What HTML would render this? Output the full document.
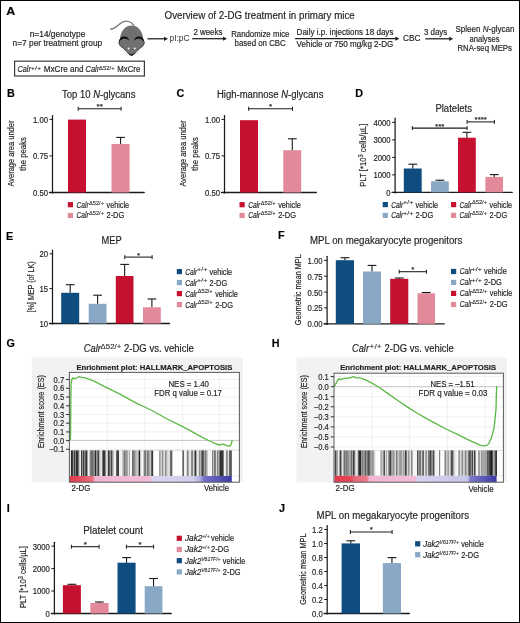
<!DOCTYPE html>
<html><head><meta charset="utf-8"><style>
html,body{margin:0;padding:0;background:#fff;}
#fig{position:relative;width:520px;height:623px;box-sizing:border-box;border:1px solid #000;overflow:hidden;background:#fff;}
#fig svg{position:absolute;left:-1px;top:-1px;will-change:transform;}
text{font-family:"Liberation Sans", sans-serif;stroke:#231f20;stroke-width:0.18px;} text.sp{stroke-width:0.1px;}
</style></head><body><div id="fig">
<svg width="520" height="623" viewBox="0 0 520 623" fill="#231f20">
<text x="6.3" y="14.9" font-size="10.8" font-weight="bold" textLength="9.0" lengthAdjust="spacingAndGlyphs" fill="#000">A</text>
<text x="164.6" y="18.5" font-size="10.4" textLength="190.2" lengthAdjust="spacingAndGlyphs">Overview of 2-DG treatment in primary mice</text>
<text x="57.5" y="36.7" font-size="8.5" text-anchor="middle" textLength="55.6" lengthAdjust="spacingAndGlyphs">n=14/genotype</text>
<text x="57.4" y="45.9" font-size="8.5" text-anchor="middle" textLength="89.6" lengthAdjust="spacingAndGlyphs">n=7 per treatment group</text>
<rect x="14.6" y="61.2" width="129.8" height="14.8" fill="none" stroke="#3a3a3a" stroke-width="1.2"/>
<text x="17.5" y="72.3" font-size="8.4" textLength="13.3" lengthAdjust="spacingAndGlyphs" font-style="italic">Calr</text>
<text x="30.7" y="69.6" font-size="5.4" textLength="10.5" lengthAdjust="spacingAndGlyphs" class="sp">+/+</text>
<text x="43.7" y="72.3" font-size="8.4" textLength="39.9" lengthAdjust="spacingAndGlyphs">MxCre and</text>
<text x="85.5" y="72.3" font-size="8.4" textLength="13.7" lengthAdjust="spacingAndGlyphs" font-style="italic">Calr</text>
<text x="99.1" y="69.6" font-size="5.4" textLength="15.6" lengthAdjust="spacingAndGlyphs" class="sp">&#916;52/+</text>
<text x="117.3" y="72.3" font-size="8.4" textLength="23.0" lengthAdjust="spacingAndGlyphs">MxCre</text>
<path d="M110.2,28.9 C113.6,29.6 116.4,26.8 119.3,24.2 C122.4,21.5 125.8,20.6 128.9,21.5 C131.1,22.2 132.8,23.8 133.9,25.7" fill="none" stroke="#747477" stroke-width="1.3"/>
<g fill="#707073">
<path d="M131.6,25.4 C137.4,25.4 141.9,30.2 142.9,36.8 L143.4,40 L119.8,40 L120.3,36.8 C121.3,30.2 125.8,25.4 131.6,25.4 Z"/>
<circle cx="124.1" cy="42.3" r="5.3"/>
<circle cx="139.1" cy="42.3" r="5.3"/>
<path d="M120.5,36.5 L142.7,36.5 L143.5,44 C142,46.5 140.5,47.6 139.4,48.4 C137,51.4 134.3,55.4 131.6,55.6 C128.9,55.4 126.2,51.4 123.8,48.4 C122.7,47.6 121.2,46.5 119.7,44 Z"/>
</g>
<g fill="none" stroke-linecap="round">
<path d="M118.8,43 C118.7,39 121.4,36.5 124.3,36.5 C126.9,36.5 128.9,38.3 129.4,41.4 C128.3,39.6 126.6,38.6 124.4,38.6 C122,38.6 120.1,40.3 118.8,43 Z" fill="#0a0a0a" stroke="none"/>
<path d="M144.4,43 C144.5,39 141.8,36.5 138.9,36.5 C136.3,36.5 134.3,38.3 133.8,41.4 C134.9,39.6 136.6,38.6 138.8,38.6 C141.2,38.6 143.1,40.3 144.4,43 Z" fill="#0a0a0a" stroke="none"/>
<path d="M119,42.8 C119.2,45.3 120.8,46.8 123.1,47.9 C125.9,50.6 128.6,54.7 131.6,55.3" stroke="#333335" stroke-width="0.9"/>
<path d="M144.2,42.8 C144,45.3 142.4,46.8 140.1,47.9 C137.3,50.6 134.6,54.7 131.6,55.3" stroke="#333335" stroke-width="0.9"/>
</g>
<path d="M128.2,53.2 C129.8,54.9 130.6,55.6 131.6,55.6 C132.6,55.6 133.4,54.9 135,53.2 C133.6,53.9 132.6,54.2 131.6,54.2 C130.6,54.2 129.6,53.9 128.2,53.2 Z" fill="#1c1c1c"/>
<circle cx="128.6" cy="48.4" r="1.0" fill="#f2f2f2"/>
<circle cx="134.8" cy="48.4" r="1.0" fill="#f2f2f2"/>
<g stroke="#c8c8c8" stroke-width="0.45" fill="none">
<path d="M127.2,51.4 L122.6,50.3 M127.2,52.1 L123.1,53.4 M127.8,52.8 L124.6,55.9"/>
<path d="M136,51.4 L140.6,50.3 M136,52.1 L140.1,53.4 M135.4,52.8 L138.6,55.9"/>
</g>
<line x1="147.4" y1="38.8" x2="164.6" y2="38.8" stroke="#1e1e1e" stroke-width="1.25"/>
<path d="M168.0,38.8 L164.0,36.699999999999996 L164.0,40.9 Z" fill="#1e1e1e"/>
<text x="169.5" y="41.2" font-size="8.3" textLength="20" lengthAdjust="spacingAndGlyphs" fill="#505050" class="sp">pI:pC</text>
<line x1="192.2" y1="38.7" x2="223.6" y2="38.7" stroke="#1e1e1e" stroke-width="1.25"/>
<path d="M227.0,38.7 L223.0,36.6 L223.0,40.800000000000004 Z" fill="#1e1e1e"/>
<text x="193.4" y="34.5" font-size="8.3" textLength="29" lengthAdjust="spacingAndGlyphs">2 weeks</text>
<text x="260.3" y="36.5" font-size="8.3" text-anchor="middle" textLength="58.2" lengthAdjust="spacingAndGlyphs">Randomize mice</text>
<text x="260.2" y="45.6" font-size="8.3" text-anchor="middle" textLength="51.2" lengthAdjust="spacingAndGlyphs">based on CBC</text>
<line x1="295.1" y1="38.7" x2="396.0" y2="38.7" stroke="#1e1e1e" stroke-width="1.25"/>
<path d="M399.4,38.7 L395.4,36.6 L395.4,40.800000000000004 Z" fill="#1e1e1e"/>
<text x="296.6" y="35.0" font-size="8.3" textLength="96.8" lengthAdjust="spacingAndGlyphs">Daily i.p. injections 18 days</text>
<text x="296.6" y="46.9" font-size="8.3" textLength="96.8" lengthAdjust="spacingAndGlyphs">Vehicle or 750 mg/kg 2-DG</text>
<text x="403.0" y="41.2" font-size="8.3" textLength="17.4" lengthAdjust="spacingAndGlyphs">CBC</text>
<line x1="425.4" y1="38.8" x2="449.8" y2="38.8" stroke="#1e1e1e" stroke-width="1.25"/>
<path d="M453.2,38.8 L449.2,36.699999999999996 L449.2,40.9 Z" fill="#1e1e1e"/>
<text x="423.9" y="35.0" font-size="8.3" textLength="23.3" lengthAdjust="spacingAndGlyphs">3 days</text>
<text x="485.0" y="32.2" font-size="8.5" text-anchor="middle" textLength="59" lengthAdjust="spacingAndGlyphs">Spleen <tspan font-style="italic">N</tspan>-glycan</text>
<text x="484.5" y="41.6" font-size="8.5" text-anchor="middle" textLength="30" lengthAdjust="spacingAndGlyphs">analyses</text>
<text x="484.7" y="50.6" font-size="8.5" text-anchor="middle" textLength="54.5" lengthAdjust="spacingAndGlyphs">RNA-seq MEPs</text>
<text x="7.1" y="96.8" font-size="10.8" font-weight="bold" fill="#000">B</text>
<text x="62.0" y="97.6" font-size="10.0" textLength="73.4" lengthAdjust="spacingAndGlyphs">Top 10 <tspan font-style="italic">N</tspan>-glycans</text>
<line x1="52.5" y1="115.5" x2="52.5" y2="193.1" stroke="#1a1a1a" stroke-width="1.25" stroke-linecap="round"/>
<line x1="49.5" y1="192.5" x2="144.20000000000002" y2="192.5" stroke="#1a1a1a" stroke-width="1.35" stroke-linecap="round"/>
<line x1="49.5" y1="119.4" x2="52.5" y2="119.4" stroke="#1a1a1a" stroke-width="1.0"/>
<text x="48.0" y="122.80000000000001" font-size="8.6" text-anchor="end" textLength="15.06" lengthAdjust="spacingAndGlyphs">1.00</text>
<line x1="49.5" y1="155.9" x2="52.5" y2="155.9" stroke="#1a1a1a" stroke-width="1.0"/>
<text x="48.0" y="159.3" font-size="8.6" text-anchor="end" textLength="15.06" lengthAdjust="spacingAndGlyphs">0.75</text>
<line x1="49.5" y1="192.5" x2="52.5" y2="192.5" stroke="#1a1a1a" stroke-width="1.0"/>
<text x="48.0" y="195.9" font-size="8.6" text-anchor="end" textLength="15.06" lengthAdjust="spacingAndGlyphs">0.50</text>
<rect x="68" y="119.6" width="18" height="72.9" fill="#c5112f"/>
<rect x="111.5" y="144" width="18.099999999999994" height="48.5" fill="#e2899a"/>
<line x1="120.6" y1="144" x2="120.6" y2="137.4" stroke="#1a1a1a" stroke-width="1.1"/>
<line x1="116.19999999999999" y1="137.4" x2="125.0" y2="137.4" stroke="#1a1a1a" stroke-width="1.1"/>
<line x1="78.2" y1="108.8" x2="121.1" y2="108.8" stroke="#1a1a1a" stroke-width="1.05"/>
<line x1="78.2" y1="106.8" x2="78.2" y2="110.8" stroke="#1a1a1a" stroke-width="1.0"/>
<line x1="121.1" y1="106.8" x2="121.1" y2="110.8" stroke="#1a1a1a" stroke-width="1.0"/>
<text x="99.65" y="109.2" font-size="8" text-anchor="middle">**</text>
<text transform="translate(13.9,153.6) rotate(-90)" font-size="9.0" text-anchor="middle" textLength="66" lengthAdjust="spacingAndGlyphs">Average area under</text>
<text transform="translate(25.5,154.0) rotate(-90)" font-size="9.0" text-anchor="middle" textLength="33.6" lengthAdjust="spacingAndGlyphs">the peaks</text>
<rect x="67.8" y="202.1" width="5.2" height="5.2" fill="#c5112f"/>
<text x="76.5" y="207.6" font-size="8.4" textLength="12.1" lengthAdjust="spacingAndGlyphs" font-style="italic">Calr</text>
<text x="89.0" y="204.5" font-size="5.2" textLength="15.0" lengthAdjust="spacingAndGlyphs" class="sp">&#916;52/+</text>
<text x="106.5" y="207.6" font-size="8.4" textLength="22.6" lengthAdjust="spacingAndGlyphs">vehicle</text>
<rect x="67.8" y="212.9" width="5.2" height="5.2" fill="#e2899a"/>
<text x="76.5" y="218.4" font-size="8.4" textLength="12.1" lengthAdjust="spacingAndGlyphs" font-style="italic">Calr</text>
<text x="89.0" y="215.3" font-size="5.2" textLength="15.0" lengthAdjust="spacingAndGlyphs" class="sp">&#916;52/+</text>
<text x="106.5" y="218.4" font-size="8.4" textLength="17.8" lengthAdjust="spacingAndGlyphs">2-DG</text>
<text x="176.5" y="96.8" font-size="10.8" font-weight="bold" fill="#000">C</text>
<text x="217.0" y="97.6" font-size="10.0" textLength="106.4" lengthAdjust="spacingAndGlyphs">High-mannose <tspan font-style="italic">N</tspan>-glycans</text>
<line x1="224.5" y1="115.5" x2="224.5" y2="193.1" stroke="#1a1a1a" stroke-width="1.25" stroke-linecap="round"/>
<line x1="221.5" y1="192.5" x2="316.29999999999995" y2="192.5" stroke="#1a1a1a" stroke-width="1.35" stroke-linecap="round"/>
<line x1="221.5" y1="119.4" x2="224.5" y2="119.4" stroke="#1a1a1a" stroke-width="1.0"/>
<text x="220.0" y="122.80000000000001" font-size="8.6" text-anchor="end" textLength="15.06" lengthAdjust="spacingAndGlyphs">1.00</text>
<line x1="221.5" y1="155.9" x2="224.5" y2="155.9" stroke="#1a1a1a" stroke-width="1.0"/>
<text x="220.0" y="159.3" font-size="8.6" text-anchor="end" textLength="15.06" lengthAdjust="spacingAndGlyphs">0.75</text>
<line x1="221.5" y1="192.5" x2="224.5" y2="192.5" stroke="#1a1a1a" stroke-width="1.0"/>
<text x="220.0" y="195.9" font-size="8.6" text-anchor="end" textLength="15.06" lengthAdjust="spacingAndGlyphs">0.50</text>
<rect x="240" y="120.2" width="18" height="72.3" fill="#c5112f"/>
<rect x="283.3" y="150.2" width="17.899999999999977" height="42.30000000000001" fill="#e2899a"/>
<line x1="292.3" y1="150.2" x2="292.3" y2="138.8" stroke="#1a1a1a" stroke-width="1.1"/>
<line x1="287.90000000000003" y1="138.8" x2="296.7" y2="138.8" stroke="#1a1a1a" stroke-width="1.1"/>
<line x1="248.7" y1="108.8" x2="292.5" y2="108.8" stroke="#1a1a1a" stroke-width="1.05"/>
<line x1="248.7" y1="106.8" x2="248.7" y2="110.8" stroke="#1a1a1a" stroke-width="1.0"/>
<line x1="292.5" y1="106.8" x2="292.5" y2="110.8" stroke="#1a1a1a" stroke-width="1.0"/>
<text x="270.6" y="109.2" font-size="8" text-anchor="middle">*</text>
<text transform="translate(185.9,153.6) rotate(-90)" font-size="9.0" text-anchor="middle" textLength="66" lengthAdjust="spacingAndGlyphs">Average area under</text>
<text transform="translate(197.5,154.0) rotate(-90)" font-size="9.0" text-anchor="middle" textLength="33.6" lengthAdjust="spacingAndGlyphs">the peaks</text>
<rect x="239.5" y="202.1" width="5.2" height="5.2" fill="#c5112f"/>
<text x="248.2" y="207.6" font-size="8.4" textLength="12.1" lengthAdjust="spacingAndGlyphs" font-style="italic">Calr</text>
<text x="260.7" y="204.5" font-size="5.2" textLength="15.0" lengthAdjust="spacingAndGlyphs" class="sp">&#916;52/+</text>
<text x="278.2" y="207.6" font-size="8.4" textLength="22.6" lengthAdjust="spacingAndGlyphs">vehicle</text>
<rect x="239.5" y="212.9" width="5.2" height="5.2" fill="#e2899a"/>
<text x="248.2" y="218.4" font-size="8.4" textLength="12.1" lengthAdjust="spacingAndGlyphs" font-style="italic">Calr</text>
<text x="260.7" y="215.3" font-size="5.2" textLength="15.0" lengthAdjust="spacingAndGlyphs" class="sp">&#916;52/+</text>
<text x="278.2" y="218.4" font-size="8.4" textLength="17.8" lengthAdjust="spacingAndGlyphs">2-DG</text>
<text x="355.2" y="96.9" font-size="10.8" font-weight="bold" fill="#000">D</text>
<text x="435.4" y="111.7" font-size="10.0" textLength="36.6" lengthAdjust="spacingAndGlyphs">Platelets</text>
<line x1="395.1" y1="118.2" x2="395.1" y2="193.0" stroke="#1a1a1a" stroke-width="1.25" stroke-linecap="round"/>
<line x1="392.1" y1="192.4" x2="512.1999999999999" y2="192.4" stroke="#1a1a1a" stroke-width="1.35" stroke-linecap="round"/>
<line x1="392.1" y1="122.4" x2="395.1" y2="122.4" stroke="#1a1a1a" stroke-width="1.0"/>
<text x="390.6" y="125.80000000000001" font-size="8.6" text-anchor="end" textLength="17.21" lengthAdjust="spacingAndGlyphs">4000</text>
<line x1="392.1" y1="139.9" x2="395.1" y2="139.9" stroke="#1a1a1a" stroke-width="1.0"/>
<text x="390.6" y="143.3" font-size="8.6" text-anchor="end" textLength="17.21" lengthAdjust="spacingAndGlyphs">3000</text>
<line x1="392.1" y1="157.4" x2="395.1" y2="157.4" stroke="#1a1a1a" stroke-width="1.0"/>
<text x="390.6" y="160.8" font-size="8.6" text-anchor="end" textLength="17.21" lengthAdjust="spacingAndGlyphs">2000</text>
<line x1="392.1" y1="174.9" x2="395.1" y2="174.9" stroke="#1a1a1a" stroke-width="1.0"/>
<text x="390.6" y="178.3" font-size="8.6" text-anchor="end" textLength="17.21" lengthAdjust="spacingAndGlyphs">1000</text>
<line x1="392.1" y1="192.4" x2="395.1" y2="192.4" stroke="#1a1a1a" stroke-width="1.0"/>
<text x="390.6" y="195.8" font-size="8.6" text-anchor="end" textLength="4.3" lengthAdjust="spacingAndGlyphs">0</text>
<rect x="403.8" y="168.5" width="17.899999999999977" height="23.900000000000006" fill="#0f4d81"/>
<line x1="412.8" y1="168.5" x2="412.8" y2="164.2" stroke="#1a1a1a" stroke-width="1.1"/>
<line x1="408.40000000000003" y1="164.2" x2="417.2" y2="164.2" stroke="#1a1a1a" stroke-width="1.1"/>
<rect x="431" y="181.3" width="17.80000000000001" height="11.099999999999994" fill="#88a8c6"/>
<line x1="439.9" y1="181.3" x2="439.9" y2="180.2" stroke="#1a1a1a" stroke-width="1.1"/>
<line x1="435.5" y1="180.2" x2="444.29999999999995" y2="180.2" stroke="#1a1a1a" stroke-width="1.1"/>
<rect x="458" y="137.7" width="17.80000000000001" height="54.70000000000002" fill="#c5112f"/>
<line x1="466.9" y1="137.7" x2="466.9" y2="132.3" stroke="#1a1a1a" stroke-width="1.1"/>
<line x1="462.5" y1="132.3" x2="471.29999999999995" y2="132.3" stroke="#1a1a1a" stroke-width="1.1"/>
<rect x="485.4" y="176.9" width="17.600000000000023" height="15.5" fill="#e2899a"/>
<line x1="494.2" y1="176.9" x2="494.2" y2="174.6" stroke="#1a1a1a" stroke-width="1.1"/>
<line x1="489.8" y1="174.6" x2="498.59999999999997" y2="174.6" stroke="#1a1a1a" stroke-width="1.1"/>
<line x1="412.3" y1="128.1" x2="467.1" y2="128.1" stroke="#1a1a1a" stroke-width="1.05"/>
<line x1="412.3" y1="126.1" x2="412.3" y2="130.1" stroke="#1a1a1a" stroke-width="1.0"/>
<line x1="467.1" y1="126.1" x2="467.1" y2="130.1" stroke="#1a1a1a" stroke-width="1.0"/>
<text x="439.70000000000005" y="128.5" font-size="8" text-anchor="middle">***</text>
<line x1="467.1" y1="121.9" x2="494.4" y2="121.9" stroke="#1a1a1a" stroke-width="1.05"/>
<line x1="467.1" y1="119.9" x2="467.1" y2="123.9" stroke="#1a1a1a" stroke-width="1.0"/>
<line x1="494.4" y1="119.9" x2="494.4" y2="123.9" stroke="#1a1a1a" stroke-width="1.0"/>
<text x="480.75" y="122.30000000000001" font-size="8" text-anchor="middle">****</text>
<text transform="translate(365.8,155.2) rotate(-90)" font-size="9.0" text-anchor="middle" textLength="63" lengthAdjust="spacingAndGlyphs">PLT [*10<tspan dy="-3.2" font-size="6.6">3</tspan><tspan dy="3.2"> cells/&#181;L]</tspan></text>
<rect x="382.7" y="202.0" width="5.2" height="5.2" fill="#0f4d81"/>
<text x="391.2" y="207.5" font-size="8.4" textLength="12.1" lengthAdjust="spacingAndGlyphs" font-style="italic">Calr</text>
<text x="403.0" y="204.4" font-size="5.2" textLength="10.4" lengthAdjust="spacingAndGlyphs" class="sp">+/+</text>
<text x="415.5" y="207.5" font-size="8.4" textLength="22.6" lengthAdjust="spacingAndGlyphs">vehicle</text>
<rect x="382.7" y="212.8" width="5.2" height="5.2" fill="#88a8c6"/>
<text x="391.2" y="218.3" font-size="8.4" textLength="12.1" lengthAdjust="spacingAndGlyphs" font-style="italic">Calr</text>
<text x="403.0" y="215.2" font-size="5.2" textLength="10.4" lengthAdjust="spacingAndGlyphs" class="sp">+/+</text>
<text x="415.5" y="218.3" font-size="8.4" textLength="17.8" lengthAdjust="spacingAndGlyphs">2-DG</text>
<rect x="451.0" y="202.0" width="5.2" height="5.2" fill="#c5112f"/>
<text x="459.5" y="207.5" font-size="8.4" textLength="12.1" lengthAdjust="spacingAndGlyphs" font-style="italic">Calr</text>
<text x="472.0" y="204.4" font-size="5.2" textLength="15.0" lengthAdjust="spacingAndGlyphs" class="sp">&#916;52/+</text>
<text x="489.5" y="207.5" font-size="8.4" textLength="22.6" lengthAdjust="spacingAndGlyphs">vehicle</text>
<rect x="451.0" y="212.8" width="5.2" height="5.2" fill="#e2899a"/>
<text x="459.5" y="218.3" font-size="8.4" textLength="12.1" lengthAdjust="spacingAndGlyphs" font-style="italic">Calr</text>
<text x="472.0" y="215.2" font-size="5.2" textLength="15.0" lengthAdjust="spacingAndGlyphs" class="sp">&#916;52/+</text>
<text x="489.5" y="218.3" font-size="8.4" textLength="17.8" lengthAdjust="spacingAndGlyphs">2-DG</text>
<text x="5.8999999999999995" y="239.5" font-size="10.8" font-weight="bold" fill="#000">E</text>
<text x="101.5" y="243.7" font-size="10.0" textLength="20.2" lengthAdjust="spacingAndGlyphs">MEP</text>
<line x1="52.5" y1="250.0" x2="52.5" y2="324.1" stroke="#1a1a1a" stroke-width="1.25" stroke-linecap="round"/>
<line x1="49.5" y1="323.5" x2="169.5" y2="323.5" stroke="#1a1a1a" stroke-width="1.35" stroke-linecap="round"/>
<line x1="49.5" y1="253.8" x2="52.5" y2="253.8" stroke="#1a1a1a" stroke-width="1.0"/>
<text x="48.0" y="257.2" font-size="8.6" text-anchor="end" textLength="8.61" lengthAdjust="spacingAndGlyphs">20</text>
<line x1="49.5" y1="288.6" x2="52.5" y2="288.6" stroke="#1a1a1a" stroke-width="1.0"/>
<text x="48.0" y="292.0" font-size="8.6" text-anchor="end" textLength="8.61" lengthAdjust="spacingAndGlyphs">15</text>
<line x1="49.5" y1="323.5" x2="52.5" y2="323.5" stroke="#1a1a1a" stroke-width="1.0"/>
<text x="48.0" y="326.9" font-size="8.6" text-anchor="end" textLength="8.61" lengthAdjust="spacingAndGlyphs">10</text>
<rect x="61.2" y="292.8" width="18.0" height="30.69999999999999" fill="#0f4d81"/>
<line x1="70.2" y1="292.8" x2="70.2" y2="284.7" stroke="#1a1a1a" stroke-width="1.1"/>
<line x1="65.8" y1="284.7" x2="74.60000000000001" y2="284.7" stroke="#1a1a1a" stroke-width="1.1"/>
<rect x="88.7" y="303.8" width="17.799999999999997" height="19.69999999999999" fill="#88a8c6"/>
<line x1="97.6" y1="303.8" x2="97.6" y2="295.2" stroke="#1a1a1a" stroke-width="1.1"/>
<line x1="93.19999999999999" y1="295.2" x2="102.0" y2="295.2" stroke="#1a1a1a" stroke-width="1.1"/>
<rect x="115.8" y="276" width="17.700000000000003" height="47.5" fill="#c5112f"/>
<line x1="124.65" y1="276" x2="124.65" y2="264.4" stroke="#1a1a1a" stroke-width="1.1"/>
<line x1="120.25" y1="264.4" x2="129.05" y2="264.4" stroke="#1a1a1a" stroke-width="1.1"/>
<rect x="143" y="307.3" width="17.80000000000001" height="16.19999999999999" fill="#e2899a"/>
<line x1="151.9" y1="307.3" x2="151.9" y2="299" stroke="#1a1a1a" stroke-width="1.1"/>
<line x1="147.5" y1="299" x2="156.3" y2="299" stroke="#1a1a1a" stroke-width="1.1"/>
<line x1="124.8" y1="257.1" x2="152.1" y2="257.1" stroke="#1a1a1a" stroke-width="1.05"/>
<line x1="124.8" y1="255.10000000000002" x2="124.8" y2="259.1" stroke="#1a1a1a" stroke-width="1.0"/>
<line x1="152.1" y1="255.10000000000002" x2="152.1" y2="259.1" stroke="#1a1a1a" stroke-width="1.0"/>
<text x="138.45" y="257.5" font-size="8" text-anchor="middle">*</text>
<text transform="translate(34.0,286.9) rotate(-90)" font-size="9.0" text-anchor="middle" textLength="51" lengthAdjust="spacingAndGlyphs">[%] MEP (of LK)</text>
<rect x="176.8" y="269.0" width="5.2" height="5.2" fill="#0f4d81"/>
<text x="185.2" y="274.5" font-size="8.4" textLength="12.1" lengthAdjust="spacingAndGlyphs" font-style="italic">Calr</text>
<text x="197.0" y="271.4" font-size="5.2" textLength="10.4" lengthAdjust="spacingAndGlyphs" class="sp">+/+</text>
<text x="209.5" y="274.5" font-size="8.4" textLength="22.6" lengthAdjust="spacingAndGlyphs">vehicle</text>
<rect x="176.8" y="280.0" width="5.2" height="5.2" fill="#88a8c6"/>
<text x="185.2" y="285.5" font-size="8.4" textLength="12.1" lengthAdjust="spacingAndGlyphs" font-style="italic">Calr</text>
<text x="197.0" y="282.4" font-size="5.2" textLength="10.4" lengthAdjust="spacingAndGlyphs" class="sp">+/+</text>
<text x="209.5" y="285.5" font-size="8.4" textLength="17.8" lengthAdjust="spacingAndGlyphs">2-DG</text>
<rect x="176.8" y="291.0" width="5.2" height="5.2" fill="#c5112f"/>
<text x="185.2" y="296.5" font-size="8.4" textLength="12.1" lengthAdjust="spacingAndGlyphs" font-style="italic">Calr</text>
<text x="197.7" y="293.4" font-size="5.2" textLength="15.0" lengthAdjust="spacingAndGlyphs" class="sp">&#916;52/+</text>
<text x="215.2" y="296.5" font-size="8.4" textLength="22.6" lengthAdjust="spacingAndGlyphs">vehicle</text>
<rect x="176.8" y="302.0" width="5.2" height="5.2" fill="#e2899a"/>
<text x="185.2" y="307.5" font-size="8.4" textLength="12.1" lengthAdjust="spacingAndGlyphs" font-style="italic">Calr</text>
<text x="197.7" y="304.4" font-size="5.2" textLength="15.0" lengthAdjust="spacingAndGlyphs" class="sp">&#916;52/+</text>
<text x="215.2" y="307.5" font-size="8.4" textLength="17.8" lengthAdjust="spacingAndGlyphs">2-DG</text>
<text x="278.0" y="239.2" font-size="10.8" font-weight="bold" fill="#000">F</text>
<text x="310.0" y="243.6" font-size="10.0" textLength="152.4" lengthAdjust="spacingAndGlyphs">MPL on megakaryocyte progenitors</text>
<line x1="327.1" y1="256.3" x2="327.1" y2="324.40000000000003" stroke="#1a1a1a" stroke-width="1.25" stroke-linecap="round"/>
<line x1="324.1" y1="323.8" x2="444.2" y2="323.8" stroke="#1a1a1a" stroke-width="1.35" stroke-linecap="round"/>
<line x1="324.1" y1="260.4" x2="327.1" y2="260.4" stroke="#1a1a1a" stroke-width="1.0"/>
<text x="322.6" y="263.79999999999995" font-size="8.6" text-anchor="end" textLength="15.06" lengthAdjust="spacingAndGlyphs">1.00</text>
<line x1="324.1" y1="276.2" x2="327.1" y2="276.2" stroke="#1a1a1a" stroke-width="1.0"/>
<text x="322.6" y="279.59999999999997" font-size="8.6" text-anchor="end" textLength="15.06" lengthAdjust="spacingAndGlyphs">0.75</text>
<line x1="324.1" y1="292.1" x2="327.1" y2="292.1" stroke="#1a1a1a" stroke-width="1.0"/>
<text x="322.6" y="295.5" font-size="8.6" text-anchor="end" textLength="15.06" lengthAdjust="spacingAndGlyphs">0.50</text>
<line x1="324.1" y1="307.9" x2="327.1" y2="307.9" stroke="#1a1a1a" stroke-width="1.0"/>
<text x="322.6" y="311.29999999999995" font-size="8.6" text-anchor="end" textLength="15.06" lengthAdjust="spacingAndGlyphs">0.25</text>
<line x1="324.1" y1="323.8" x2="327.1" y2="323.8" stroke="#1a1a1a" stroke-width="1.0"/>
<text x="322.6" y="327.2" font-size="8.6" text-anchor="end" textLength="15.06" lengthAdjust="spacingAndGlyphs">0.00</text>
<rect x="335.8" y="260.2" width="18.19999999999999" height="63.60000000000002" fill="#0f4d81"/>
<line x1="344.9" y1="260.2" x2="344.9" y2="257.7" stroke="#1a1a1a" stroke-width="1.1"/>
<line x1="340.5" y1="257.7" x2="349.29999999999995" y2="257.7" stroke="#1a1a1a" stroke-width="1.1"/>
<rect x="363" y="271.5" width="18" height="52.30000000000001" fill="#88a8c6"/>
<line x1="372" y1="271.5" x2="372" y2="265.4" stroke="#1a1a1a" stroke-width="1.1"/>
<line x1="367.6" y1="265.4" x2="376.4" y2="265.4" stroke="#1a1a1a" stroke-width="1.1"/>
<rect x="390.2" y="278.8" width="18.100000000000023" height="45.0" fill="#c5112f"/>
<line x1="399.25" y1="278.8" x2="399.25" y2="278.0" stroke="#1a1a1a" stroke-width="1.1"/>
<line x1="394.85" y1="278.0" x2="403.65" y2="278.0" stroke="#1a1a1a" stroke-width="1.1"/>
<rect x="417.5" y="293.3" width="17.5" height="30.5" fill="#e2899a"/>
<line x1="426.25" y1="293.3" x2="426.25" y2="292.5" stroke="#1a1a1a" stroke-width="1.1"/>
<line x1="421.85" y1="292.5" x2="430.65" y2="292.5" stroke="#1a1a1a" stroke-width="1.1"/>
<line x1="399.2" y1="271.7" x2="426.5" y2="271.7" stroke="#1a1a1a" stroke-width="1.05"/>
<line x1="399.2" y1="269.7" x2="399.2" y2="273.7" stroke="#1a1a1a" stroke-width="1.0"/>
<line x1="426.5" y1="269.7" x2="426.5" y2="273.7" stroke="#1a1a1a" stroke-width="1.0"/>
<text x="412.85" y="272.09999999999997" font-size="8" text-anchor="middle">*</text>
<text transform="translate(301.3,289.7) rotate(-90)" font-size="9.2" text-anchor="middle" textLength="71" lengthAdjust="spacingAndGlyphs">Geometric mean MPL</text>
<rect x="451.0" y="268.9" width="5.2" height="5.2" fill="#0f4d81"/>
<text x="459.8" y="274.4" font-size="8.4" textLength="12.1" lengthAdjust="spacingAndGlyphs" font-style="italic">Calr</text>
<text x="471.6" y="271.3" font-size="5.2" textLength="10.4" lengthAdjust="spacingAndGlyphs" class="sp">+/+</text>
<text x="484.1" y="274.4" font-size="8.4" textLength="22.6" lengthAdjust="spacingAndGlyphs">vehicle</text>
<rect x="451.0" y="279.8" width="5.2" height="5.2" fill="#88a8c6"/>
<text x="459.8" y="285.3" font-size="8.4" textLength="12.1" lengthAdjust="spacingAndGlyphs" font-style="italic">Calr</text>
<text x="471.6" y="282.2" font-size="5.2" textLength="10.4" lengthAdjust="spacingAndGlyphs" class="sp">+/+</text>
<text x="484.1" y="285.3" font-size="8.4" textLength="17.8" lengthAdjust="spacingAndGlyphs">2-DG</text>
<rect x="451.0" y="290.8" width="5.2" height="5.2" fill="#c5112f"/>
<text x="459.8" y="296.3" font-size="8.4" textLength="12.1" lengthAdjust="spacingAndGlyphs" font-style="italic">Calr</text>
<text x="472.3" y="293.2" font-size="5.2" textLength="15.0" lengthAdjust="spacingAndGlyphs" class="sp">&#916;52/+</text>
<text x="489.8" y="296.3" font-size="8.4" textLength="22.6" lengthAdjust="spacingAndGlyphs">vehicle</text>
<rect x="451.0" y="301.9" width="5.2" height="5.2" fill="#e2899a"/>
<text x="459.8" y="307.4" font-size="8.4" textLength="12.1" lengthAdjust="spacingAndGlyphs" font-style="italic">Calr</text>
<text x="472.3" y="304.3" font-size="5.2" textLength="15.0" lengthAdjust="spacingAndGlyphs" class="sp">&#916;52/+</text>
<text x="489.8" y="307.4" font-size="8.4" textLength="17.8" lengthAdjust="spacingAndGlyphs">2-DG</text>
<defs>
<linearGradient id="gG" x1="70" x2="231.8" y1="0" y2="0" gradientUnits="userSpaceOnUse">
<stop offset="0" stop-color="#e23a4c"/><stop offset="0.07" stop-color="#e55060"/><stop offset="0.14" stop-color="#e9707e"/>
<stop offset="0.155" stop-color="#f0b6d2"/><stop offset="0.5" stop-color="#f2bcd8"/>
<stop offset="0.505" stop-color="#d6d4ef"/><stop offset="0.76" stop-color="#d2d0ee"/>
<stop offset="0.8" stop-color="#b4b2e2"/><stop offset="0.83" stop-color="#7472c6"/><stop offset="1" stop-color="#3c3aa6"/>
</linearGradient>
<linearGradient id="gH" x1="334.5" x2="496.6" y1="0" y2="0" gradientUnits="userSpaceOnUse">
<stop offset="0" stop-color="#e23a4c"/><stop offset="0.1" stop-color="#e44656"/><stop offset="0.12" stop-color="#e86878"/><stop offset="0.2" stop-color="#ea7a88"/>
<stop offset="0.215" stop-color="#f0b6d2"/><stop offset="0.5" stop-color="#f2bcd8"/>
<stop offset="0.505" stop-color="#d6d4ef"/><stop offset="0.82" stop-color="#c8c6ea"/>
<stop offset="0.84" stop-color="#7a78c8"/><stop offset="1" stop-color="#3a38a4"/>
</linearGradient>
</defs>
<text x="6.6" y="347.3" font-size="10.8" font-weight="bold" fill="#000">G</text>
<rect x="31.8" y="357.4" width="211.29999999999998" height="124.90000000000003" fill="#f1f2f4"/>
<rect x="69.4" y="372.4" width="170.0" height="109.80000000000001" fill="#ffffff"/>
<line x1="69.4" y1="379.5" x2="239.4" y2="379.5" stroke="#e6e6e6" stroke-width="0.6"/>
<line x1="69.4" y1="388.3" x2="239.4" y2="388.3" stroke="#e6e6e6" stroke-width="0.6"/>
<line x1="69.4" y1="397.0" x2="239.4" y2="397.0" stroke="#e6e6e6" stroke-width="0.6"/>
<line x1="69.4" y1="405.8" x2="239.4" y2="405.8" stroke="#e6e6e6" stroke-width="0.6"/>
<line x1="69.4" y1="414.5" x2="239.4" y2="414.5" stroke="#e6e6e6" stroke-width="0.6"/>
<line x1="69.4" y1="423.2" x2="239.4" y2="423.2" stroke="#e6e6e6" stroke-width="0.6"/>
<line x1="69.4" y1="431.9" x2="239.4" y2="431.9" stroke="#e6e6e6" stroke-width="0.6"/>
<line x1="69.4" y1="440.6" x2="239.4" y2="440.6" stroke="#e6e6e6" stroke-width="0.6"/>
<line x1="69.4" y1="449.3" x2="239.4" y2="449.3" stroke="#e6e6e6" stroke-width="0.6"/>
<line x1="107.4" y1="372.4" x2="107.4" y2="450.4" stroke="#e6e6e6" stroke-width="0.6"/>
<line x1="144.9" y1="372.4" x2="144.9" y2="450.4" stroke="#e6e6e6" stroke-width="0.6"/>
<line x1="182.4" y1="372.4" x2="182.4" y2="450.4" stroke="#e6e6e6" stroke-width="0.6"/>
<line x1="219.4" y1="372.4" x2="219.4" y2="450.4" stroke="#e6e6e6" stroke-width="0.6"/>
<line x1="69.4" y1="440.4" x2="239.4" y2="440.4" stroke="#bdbdbd" stroke-width="0.8"/>
<line x1="69.4" y1="450.4" x2="239.4" y2="450.4" stroke="#d0d0d0" stroke-width="0.6"/>
<line x1="69.4" y1="476.0" x2="239.4" y2="476.0" stroke="#d8d8d8" stroke-width="0.6"/>
<rect x="70" y="450.4" width="1" height="25.600000000000023" fill="#e6e6e6"/>
<rect x="71" y="450.4" width="1" height="25.600000000000023" fill="#282828"/>
<rect x="72" y="450.4" width="1" height="25.600000000000023" fill="#3c3c3c"/>
<rect x="73" y="450.4" width="1" height="25.600000000000023" fill="#969696"/>
<rect x="74" y="450.4" width="1" height="25.600000000000023" fill="#3c3c3c"/>
<rect x="75" y="450.4" width="1" height="25.600000000000023" fill="#828282"/>
<rect x="76" y="450.4" width="2" height="25.600000000000023" fill="#323232"/>
<rect x="78" y="450.4" width="1" height="25.600000000000023" fill="#787878"/>
<rect x="79" y="450.4" width="1" height="25.600000000000023" fill="#c8c8c8"/>
<rect x="80" y="450.4" width="1" height="25.600000000000023" fill="#f0f0f0"/>
<rect x="81" y="450.4" width="1" height="25.600000000000023" fill="#3c3c3c"/>
<rect x="82" y="450.4" width="1" height="25.600000000000023" fill="#969696"/>
<rect x="83" y="450.4" width="1" height="25.600000000000023" fill="#3c3c3c"/>
<rect x="84" y="450.4" width="1" height="25.600000000000023" fill="#8c8c8c"/>
<rect x="85" y="450.4" width="1" height="25.600000000000023" fill="#5a5a5a"/>
<rect x="86" y="450.4" width="1" height="25.600000000000023" fill="#323232"/>
<rect x="87" y="450.4" width="1" height="25.600000000000023" fill="#a0a0a0"/>
<rect x="88" y="450.4" width="1" height="25.600000000000023" fill="#f0f0f0"/>
<rect x="89" y="450.4" width="1" height="25.600000000000023" fill="#c8c8c8"/>
<rect x="90" y="450.4" width="1" height="25.600000000000023" fill="#828282"/>
<rect x="91" y="450.4" width="2" height="25.600000000000023" fill="#6e6e6e"/>
<rect x="93" y="450.4" width="1" height="25.600000000000023" fill="#828282"/>
<rect x="94" y="450.4" width="1" height="25.600000000000023" fill="#8c8c8c"/>
<rect x="95" y="450.4" width="1" height="25.600000000000023" fill="#282828"/>
<rect x="96" y="450.4" width="1" height="25.600000000000023" fill="#969696"/>
<rect x="97" y="450.4" width="1" height="25.600000000000023" fill="#787878"/>
<rect x="98" y="450.4" width="1" height="25.600000000000023" fill="#464646"/>
<rect x="99" y="450.4" width="1" height="25.600000000000023" fill="#b4b4b4"/>
<rect x="100" y="450.4" width="1" height="25.600000000000023" fill="#dcdcdc"/>
<rect x="101" y="450.4" width="1" height="25.600000000000023" fill="#e6e6e6"/>
<rect x="102" y="450.4" width="1" height="25.600000000000023" fill="#787878"/>
<rect x="103" y="450.4" width="1" height="25.600000000000023" fill="#323232"/>
<rect x="104" y="450.4" width="1" height="25.600000000000023" fill="#3c3c3c"/>
<rect x="105" y="450.4" width="1" height="25.600000000000023" fill="#8c8c8c"/>
<rect x="106" y="450.4" width="1" height="25.600000000000023" fill="#dcdcdc"/>
<rect x="107" y="450.4" width="1" height="25.600000000000023" fill="#c8c8c8"/>
<rect x="108" y="450.4" width="1" height="25.600000000000023" fill="#3c3c3c"/>
<rect x="109" y="450.4" width="1" height="25.600000000000023" fill="#646464"/>
<rect x="110" y="450.4" width="1" height="25.600000000000023" fill="#969696"/>
<rect x="111" y="450.4" width="1" height="25.600000000000023" fill="#464646"/>
<rect x="112" y="450.4" width="1" height="25.600000000000023" fill="#969696"/>
<rect x="113" y="450.4" width="1" height="25.600000000000023" fill="#c8c8c8"/>
<rect x="114" y="450.4" width="2" height="25.600000000000023" fill="#f0f0f0"/>
<rect x="116" y="450.4" width="1" height="25.600000000000023" fill="#646464"/>
<rect x="117" y="450.4" width="1" height="25.600000000000023" fill="#464646"/>
<rect x="118" y="450.4" width="1" height="25.600000000000023" fill="#3c3c3c"/>
<rect x="119" y="450.4" width="3" height="25.600000000000023" fill="#f0f0f0"/>
<rect x="122" y="450.4" width="1" height="25.600000000000023" fill="#c8c8c8"/>
<rect x="123" y="450.4" width="1" height="25.600000000000023" fill="#aaaaaa"/>
<rect x="124" y="450.4" width="1" height="25.600000000000023" fill="#787878"/>
<rect x="125" y="450.4" width="2" height="25.600000000000023" fill="#969696"/>
<rect x="127" y="450.4" width="1" height="25.600000000000023" fill="#aaaaaa"/>
<rect x="128" y="450.4" width="1" height="25.600000000000023" fill="#dcdcdc"/>
<rect x="129" y="450.4" width="1" height="25.600000000000023" fill="#aaaaaa"/>
<rect x="130" y="450.4" width="2" height="25.600000000000023" fill="#f5f5f5"/>
<rect x="132" y="450.4" width="1" height="25.600000000000023" fill="#6e6e6e"/>
<rect x="133" y="450.4" width="1" height="25.600000000000023" fill="#787878"/>
<rect x="134" y="450.4" width="1" height="25.600000000000023" fill="#8c8c8c"/>
<rect x="135" y="450.4" width="1" height="25.600000000000023" fill="#aaaaaa"/>
<rect x="136" y="450.4" width="1" height="25.600000000000023" fill="#bebebe"/>
<rect x="137" y="450.4" width="1" height="25.600000000000023" fill="#c8c8c8"/>
<rect x="138" y="450.4" width="1" height="25.600000000000023" fill="#969696"/>
<rect x="139" y="450.4" width="1" height="25.600000000000023" fill="#1e1e1e"/>
<rect x="140" y="450.4" width="1" height="25.600000000000023" fill="#c8c8c8"/>
<rect x="141" y="450.4" width="1" height="25.600000000000023" fill="#f0f0f0"/>
<rect x="142" y="450.4" width="1" height="25.600000000000023" fill="#f5f5f5"/>
<rect x="143" y="450.4" width="1" height="25.600000000000023" fill="#c8c8c8"/>
<rect x="144" y="450.4" width="1" height="25.600000000000023" fill="#828282"/>
<rect x="145" y="450.4" width="1" height="25.600000000000023" fill="#737373"/>
<rect x="146" y="450.4" width="1" height="25.600000000000023" fill="#bebebe"/>
<rect x="147" y="450.4" width="1" height="25.600000000000023" fill="#787878"/>
<rect x="148" y="450.4" width="1" height="25.600000000000023" fill="#8c8c8c"/>
<rect x="149" y="450.4" width="1" height="25.600000000000023" fill="#aaaaaa"/>
<rect x="150" y="450.4" width="1" height="25.600000000000023" fill="#c8c8c8"/>
<rect x="151" y="450.4" width="1" height="25.600000000000023" fill="#646464"/>
<rect x="152" y="450.4" width="1" height="25.600000000000023" fill="#3c3c3c"/>
<rect x="153" y="450.4" width="1" height="25.600000000000023" fill="#dcdcdc"/>
<rect x="159" y="450.4" width="1" height="25.600000000000023" fill="#a0a0a0"/>
<rect x="160" y="450.4" width="1" height="25.600000000000023" fill="#b4b4b4"/>
<rect x="161" y="450.4" width="1" height="25.600000000000023" fill="#d2d2d2"/>
<rect x="162" y="450.4" width="1" height="25.600000000000023" fill="#8c8c8c"/>
<rect x="163" y="450.4" width="1" height="25.600000000000023" fill="#c8c8c8"/>
<rect x="164" y="450.4" width="1" height="25.600000000000023" fill="#dcdcdc"/>
<rect x="165" y="450.4" width="1" height="25.600000000000023" fill="#8c8c8c"/>
<rect x="166" y="450.4" width="1" height="25.600000000000023" fill="#b4b4b4"/>
<rect x="167" y="450.4" width="1" height="25.600000000000023" fill="#d2d2d2"/>
<rect x="168" y="450.4" width="2" height="25.600000000000023" fill="#dcdcdc"/>
<rect x="170" y="450.4" width="1" height="25.600000000000023" fill="#6e6e6e"/>
<rect x="171" y="450.4" width="1" height="25.600000000000023" fill="#646464"/>
<rect x="172" y="450.4" width="1" height="25.600000000000023" fill="#c8c8c8"/>
<rect x="182" y="450.4" width="1" height="25.600000000000023" fill="#969696"/>
<rect x="183" y="450.4" width="1" height="25.600000000000023" fill="#646464"/>
<rect x="184" y="450.4" width="1" height="25.600000000000023" fill="#f0f0f0"/>
<rect x="185" y="450.4" width="1" height="25.600000000000023" fill="#f5f5f5"/>
<rect x="186" y="450.4" width="1" height="25.600000000000023" fill="#dcdcdc"/>
<rect x="187" y="450.4" width="1" height="25.600000000000023" fill="#828282"/>
<rect x="188" y="450.4" width="1" height="25.600000000000023" fill="#aaaaaa"/>
<rect x="189" y="450.4" width="2" height="25.600000000000023" fill="#e6e6e6"/>
<rect x="191" y="450.4" width="1" height="25.600000000000023" fill="#8c8c8c"/>
<rect x="192" y="450.4" width="1" height="25.600000000000023" fill="#828282"/>
<rect x="193" y="450.4" width="1" height="25.600000000000023" fill="#dcdcdc"/>
<rect x="194" y="450.4" width="1" height="25.600000000000023" fill="#8c8c8c"/>
<rect x="195" y="450.4" width="1" height="25.600000000000023" fill="#323232"/>
<rect x="196" y="450.4" width="1" height="25.600000000000023" fill="#aaaaaa"/>
<rect x="197" y="450.4" width="1" height="25.600000000000023" fill="#e6e6e6"/>
<rect x="198" y="450.4" width="1" height="25.600000000000023" fill="#dcdcdc"/>
<rect x="199" y="450.4" width="1" height="25.600000000000023" fill="#8c8c8c"/>
<rect x="200" y="450.4" width="1" height="25.600000000000023" fill="#b4b4b4"/>
<rect x="201" y="450.4" width="1" height="25.600000000000023" fill="#787878"/>
<rect x="202" y="450.4" width="1" height="25.600000000000023" fill="#464646"/>
<rect x="203" y="450.4" width="1" height="25.600000000000023" fill="#646464"/>
<rect x="204" y="450.4" width="1" height="25.600000000000023" fill="#a0a0a0"/>
<rect x="205" y="450.4" width="1" height="25.600000000000023" fill="#787878"/>
<rect x="206" y="450.4" width="1" height="25.600000000000023" fill="#aaaaaa"/>
<rect x="207" y="450.4" width="1" height="25.600000000000023" fill="#c8c8c8"/>
<rect x="208" y="450.4" width="4" height="25.600000000000023" fill="#f5f5f5"/>
<rect x="212" y="450.4" width="1" height="25.600000000000023" fill="#828282"/>
<rect x="213" y="450.4" width="1" height="25.600000000000023" fill="#bebebe"/>
<rect x="214" y="450.4" width="1" height="25.600000000000023" fill="#787878"/>
<rect x="215" y="450.4" width="1" height="25.600000000000023" fill="#828282"/>
<rect x="216" y="450.4" width="1" height="25.600000000000023" fill="#dcdcdc"/>
<rect x="217" y="450.4" width="1" height="25.600000000000023" fill="#828282"/>
<rect x="218" y="450.4" width="1" height="25.600000000000023" fill="#aaaaaa"/>
<rect x="219" y="450.4" width="1" height="25.600000000000023" fill="#787878"/>
<rect x="220" y="450.4" width="2" height="25.600000000000023" fill="#323232"/>
<rect x="222" y="450.4" width="1" height="25.600000000000023" fill="#3c3c3c"/>
<rect x="223" y="450.4" width="1" height="25.600000000000023" fill="#787878"/>
<rect x="224" y="450.4" width="1" height="25.600000000000023" fill="#f5f5f5"/>
<rect x="225" y="450.4" width="1" height="25.600000000000023" fill="#e6e6e6"/>
<rect x="226" y="450.4" width="1" height="25.600000000000023" fill="#8c8c8c"/>
<rect x="227" y="450.4" width="1" height="25.600000000000023" fill="#a0a0a0"/>
<rect x="228" y="450.4" width="1" height="25.600000000000023" fill="#dcdcdc"/>
<rect x="229" y="450.4" width="1" height="25.600000000000023" fill="#646464"/>
<rect x="230" y="450.4" width="1" height="25.600000000000023" fill="#5a5a5a"/>
<rect x="231" y="450.4" width="1" height="25.600000000000023" fill="#6e6e6e"/>
<rect x="69.9" y="476.0" width="161.9" height="6.199999999999989" fill="url(#gG)"/>
<polyline points="70.4,440.3 70.6,430 70.8,400 71.1,383 71.8,379.5 73.2,377.8 74.5,378.6 75.8,378.3 77.5,377.5 79.2,376.6 80.5,377.1 81.8,377.3 85.3,377.9 94,381.2 102.6,385.6 119.9,394.2 137.2,403.7 150,409.5 167.3,419 184.6,427.7 201.9,437.2 210.6,441.5 215,443.4 219.2,445 221.5,444.4 223.5,444.1 226.1,445.3 229.6,446.4 231.3,444.1 232.2,440.1" fill="none" stroke="#5cb946" stroke-width="1.35" stroke-linejoin="round"/>
<rect x="69.4" y="372.4" width="170.0" height="109.80000000000001" fill="none" stroke="#5a5a5a" stroke-width="1"/>
<line x1="66.10000000000001" y1="379.5" x2="69.4" y2="379.5" stroke="#333" stroke-width="1.0"/>
<text x="64.10000000000001" y="382.6" font-size="8.8" text-anchor="end" textLength="10.52" lengthAdjust="spacingAndGlyphs">0.7</text>
<line x1="66.10000000000001" y1="388.3" x2="69.4" y2="388.3" stroke="#333" stroke-width="1.0"/>
<text x="64.10000000000001" y="391.40000000000003" font-size="8.8" text-anchor="end" textLength="10.52" lengthAdjust="spacingAndGlyphs">0.6</text>
<line x1="66.10000000000001" y1="397.0" x2="69.4" y2="397.0" stroke="#333" stroke-width="1.0"/>
<text x="64.10000000000001" y="400.1" font-size="8.8" text-anchor="end" textLength="10.52" lengthAdjust="spacingAndGlyphs">0.5</text>
<line x1="66.10000000000001" y1="405.8" x2="69.4" y2="405.8" stroke="#333" stroke-width="1.0"/>
<text x="64.10000000000001" y="408.90000000000003" font-size="8.8" text-anchor="end" textLength="10.52" lengthAdjust="spacingAndGlyphs">0.4</text>
<line x1="66.10000000000001" y1="414.5" x2="69.4" y2="414.5" stroke="#333" stroke-width="1.0"/>
<text x="64.10000000000001" y="417.6" font-size="8.8" text-anchor="end" textLength="10.52" lengthAdjust="spacingAndGlyphs">0.3</text>
<line x1="66.10000000000001" y1="423.2" x2="69.4" y2="423.2" stroke="#333" stroke-width="1.0"/>
<text x="64.10000000000001" y="426.3" font-size="8.8" text-anchor="end" textLength="10.52" lengthAdjust="spacingAndGlyphs">0.2</text>
<line x1="66.10000000000001" y1="431.9" x2="69.4" y2="431.9" stroke="#333" stroke-width="1.0"/>
<text x="64.10000000000001" y="435.0" font-size="8.8" text-anchor="end" textLength="10.52" lengthAdjust="spacingAndGlyphs">0.1</text>
<line x1="66.10000000000001" y1="440.6" x2="69.4" y2="440.6" stroke="#333" stroke-width="1.0"/>
<text x="64.10000000000001" y="443.70000000000005" font-size="8.8" text-anchor="end" textLength="10.52" lengthAdjust="spacingAndGlyphs">0.0</text>
<line x1="66.10000000000001" y1="449.3" x2="69.4" y2="449.3" stroke="#333" stroke-width="1.0"/>
<text x="64.10000000000001" y="452.40000000000003" font-size="8.8" text-anchor="end" textLength="14.94" lengthAdjust="spacingAndGlyphs">&#8722;0.1</text>
<text x="76.4" y="370.1" font-size="8.1" font-weight="bold" textLength="155.9" lengthAdjust="spacingAndGlyphs">Enrichment plot: HALLMARK_APOPTOSIS</text>
<text x="188.7" y="386.5" font-size="8.7" text-anchor="middle" textLength="40.5" lengthAdjust="spacingAndGlyphs">NES = 1.40</text>
<text x="188.1" y="395.7" font-size="8.7" text-anchor="middle" textLength="67.6" lengthAdjust="spacingAndGlyphs">FDR q value = 0.17</text>
<text x="71.6" y="491.1" font-size="8.6" textLength="18.8" lengthAdjust="spacingAndGlyphs">2-DG</text>
<text x="204.0" y="491.4" font-size="8.6" textLength="25" lengthAdjust="spacingAndGlyphs">Vehicle</text>
<text transform="translate(44.0,411.6) rotate(-90)" font-size="9.0" text-anchor="middle" textLength="73" lengthAdjust="spacingAndGlyphs">Enrichment score (ES)</text>
<text x="271.8" y="347.3" font-size="10.8" font-weight="bold" fill="#000">H</text>
<rect x="296.5" y="357.4" width="210.60000000000002" height="124.90000000000003" fill="#f1f2f4"/>
<rect x="334" y="373.2" width="169.39999999999998" height="109.0" fill="#ffffff"/>
<line x1="334" y1="376.6" x2="503.4" y2="376.6" stroke="#e6e6e6" stroke-width="0.6"/>
<line x1="334" y1="386.7" x2="503.4" y2="386.7" stroke="#e6e6e6" stroke-width="0.6"/>
<line x1="334" y1="396.7" x2="503.4" y2="396.7" stroke="#e6e6e6" stroke-width="0.6"/>
<line x1="334" y1="406.8" x2="503.4" y2="406.8" stroke="#e6e6e6" stroke-width="0.6"/>
<line x1="334" y1="416.8" x2="503.4" y2="416.8" stroke="#e6e6e6" stroke-width="0.6"/>
<line x1="334" y1="426.9" x2="503.4" y2="426.9" stroke="#e6e6e6" stroke-width="0.6"/>
<line x1="334" y1="436.9" x2="503.4" y2="436.9" stroke="#e6e6e6" stroke-width="0.6"/>
<line x1="334" y1="447.0" x2="503.4" y2="447.0" stroke="#e6e6e6" stroke-width="0.6"/>
<line x1="371.8" y1="373.2" x2="371.8" y2="450.4" stroke="#e6e6e6" stroke-width="0.6"/>
<line x1="409.5" y1="373.2" x2="409.5" y2="450.4" stroke="#e6e6e6" stroke-width="0.6"/>
<line x1="447.3" y1="373.2" x2="447.3" y2="450.4" stroke="#e6e6e6" stroke-width="0.6"/>
<line x1="485" y1="373.2" x2="485" y2="450.4" stroke="#e6e6e6" stroke-width="0.6"/>
<line x1="334" y1="386.7" x2="503.4" y2="386.7" stroke="#bdbdbd" stroke-width="0.8"/>
<line x1="334" y1="450.4" x2="503.4" y2="450.4" stroke="#d0d0d0" stroke-width="0.6"/>
<line x1="334" y1="475.8" x2="503.4" y2="475.8" stroke="#d8d8d8" stroke-width="0.6"/>
<rect x="334" y="450.4" width="1" height="25.400000000000034" fill="#c8c8c8"/>
<rect x="335" y="450.4" width="1" height="25.400000000000034" fill="#464646"/>
<rect x="336" y="450.4" width="1" height="25.400000000000034" fill="#969696"/>
<rect x="337" y="450.4" width="1" height="25.400000000000034" fill="#a0a0a0"/>
<rect x="338" y="450.4" width="1" height="25.400000000000034" fill="#f0f0f0"/>
<rect x="339" y="450.4" width="1" height="25.400000000000034" fill="#a0a0a0"/>
<rect x="340" y="450.4" width="1" height="25.400000000000034" fill="#464646"/>
<rect x="341" y="450.4" width="1" height="25.400000000000034" fill="#969696"/>
<rect x="342" y="450.4" width="1" height="25.400000000000034" fill="#e6e6e6"/>
<rect x="343" y="450.4" width="1" height="25.400000000000034" fill="#aaaaaa"/>
<rect x="344" y="450.4" width="1" height="25.400000000000034" fill="#6e6e6e"/>
<rect x="345" y="450.4" width="1" height="25.400000000000034" fill="#969696"/>
<rect x="346" y="450.4" width="1" height="25.400000000000034" fill="#787878"/>
<rect x="347" y="450.4" width="1" height="25.400000000000034" fill="#8c8c8c"/>
<rect x="348" y="450.4" width="1" height="25.400000000000034" fill="#969696"/>
<rect x="349" y="450.4" width="1" height="25.400000000000034" fill="#aaaaaa"/>
<rect x="350" y="450.4" width="1" height="25.400000000000034" fill="#a0a0a0"/>
<rect x="351" y="450.4" width="1" height="25.400000000000034" fill="#6e6e6e"/>
<rect x="352" y="450.4" width="1" height="25.400000000000034" fill="#a0a0a0"/>
<rect x="353" y="450.4" width="1" height="25.400000000000034" fill="#3c3c3c"/>
<rect x="354" y="450.4" width="1" height="25.400000000000034" fill="#787878"/>
<rect x="355" y="450.4" width="1" height="25.400000000000034" fill="#c8c8c8"/>
<rect x="356" y="450.4" width="1" height="25.400000000000034" fill="#f0f0f0"/>
<rect x="357" y="450.4" width="1" height="25.400000000000034" fill="#c8c8c8"/>
<rect x="358" y="450.4" width="1" height="25.400000000000034" fill="#646464"/>
<rect x="359" y="450.4" width="2" height="25.400000000000034" fill="#282828"/>
<rect x="361" y="450.4" width="1" height="25.400000000000034" fill="#969696"/>
<rect x="362" y="450.4" width="1" height="25.400000000000034" fill="#828282"/>
<rect x="363" y="450.4" width="2" height="25.400000000000034" fill="#969696"/>
<rect x="365" y="450.4" width="1" height="25.400000000000034" fill="#5a5a5a"/>
<rect x="366" y="450.4" width="1" height="25.400000000000034" fill="#969696"/>
<rect x="367" y="450.4" width="1" height="25.400000000000034" fill="#787878"/>
<rect x="368" y="450.4" width="1" height="25.400000000000034" fill="#505050"/>
<rect x="369" y="450.4" width="1" height="25.400000000000034" fill="#646464"/>
<rect x="370" y="450.4" width="1" height="25.400000000000034" fill="#969696"/>
<rect x="371" y="450.4" width="1" height="25.400000000000034" fill="#aaaaaa"/>
<rect x="372" y="450.4" width="1" height="25.400000000000034" fill="#8c8c8c"/>
<rect x="373" y="450.4" width="1" height="25.400000000000034" fill="#aaaaaa"/>
<rect x="374" y="450.4" width="1" height="25.400000000000034" fill="#d2d2d2"/>
<rect x="375" y="450.4" width="1" height="25.400000000000034" fill="#f0f0f0"/>
<rect x="380" y="450.4" width="1" height="25.400000000000034" fill="#c8c8c8"/>
<rect x="381" y="450.4" width="1" height="25.400000000000034" fill="#aaaaaa"/>
<rect x="382" y="450.4" width="1" height="25.400000000000034" fill="#c8c8c8"/>
<rect x="383" y="450.4" width="1" height="25.400000000000034" fill="#8c8c8c"/>
<rect x="384" y="450.4" width="1" height="25.400000000000034" fill="#505050"/>
<rect x="385" y="450.4" width="1" height="25.400000000000034" fill="#dcdcdc"/>
<rect x="386" y="450.4" width="1" height="25.400000000000034" fill="#aaaaaa"/>
<rect x="387" y="450.4" width="1" height="25.400000000000034" fill="#e6e6e6"/>
<rect x="388" y="450.4" width="1" height="25.400000000000034" fill="#969696"/>
<rect x="389" y="450.4" width="1" height="25.400000000000034" fill="#646464"/>
<rect x="390" y="450.4" width="1" height="25.400000000000034" fill="#464646"/>
<rect x="391" y="450.4" width="1" height="25.400000000000034" fill="#969696"/>
<rect x="392" y="450.4" width="1" height="25.400000000000034" fill="#aaaaaa"/>
<rect x="393" y="450.4" width="1" height="25.400000000000034" fill="#969696"/>
<rect x="394" y="450.4" width="1" height="25.400000000000034" fill="#b4b4b4"/>
<rect x="395" y="450.4" width="1" height="25.400000000000034" fill="#dcdcdc"/>
<rect x="396" y="450.4" width="1" height="25.400000000000034" fill="#787878"/>
<rect x="397" y="450.4" width="1" height="25.400000000000034" fill="#aaaaaa"/>
<rect x="398" y="450.4" width="1" height="25.400000000000034" fill="#c8c8c8"/>
<rect x="399" y="450.4" width="1" height="25.400000000000034" fill="#a0a0a0"/>
<rect x="400" y="450.4" width="1" height="25.400000000000034" fill="#969696"/>
<rect x="401" y="450.4" width="1" height="25.400000000000034" fill="#a0a0a0"/>
<rect x="402" y="450.4" width="1" height="25.400000000000034" fill="#c8c8c8"/>
<rect x="403" y="450.4" width="1" height="25.400000000000034" fill="#a0a0a0"/>
<rect x="404" y="450.4" width="1" height="25.400000000000034" fill="#b4b4b4"/>
<rect x="405" y="450.4" width="1" height="25.400000000000034" fill="#3c3c3c"/>
<rect x="406" y="450.4" width="1" height="25.400000000000034" fill="#787878"/>
<rect x="407" y="450.4" width="1" height="25.400000000000034" fill="#d2d2d2"/>
<rect x="408" y="450.4" width="1" height="25.400000000000034" fill="#969696"/>
<rect x="409" y="450.4" width="1" height="25.400000000000034" fill="#bebebe"/>
<rect x="410" y="450.4" width="1" height="25.400000000000034" fill="#dcdcdc"/>
<rect x="411" y="450.4" width="1" height="25.400000000000034" fill="#8c8c8c"/>
<rect x="412" y="450.4" width="1" height="25.400000000000034" fill="#b4b4b4"/>
<rect x="413" y="450.4" width="4" height="25.400000000000034" fill="#f5f5f5"/>
<rect x="417" y="450.4" width="1" height="25.400000000000034" fill="#505050"/>
<rect x="418" y="450.4" width="1" height="25.400000000000034" fill="#969696"/>
<rect x="419" y="450.4" width="2" height="25.400000000000034" fill="#787878"/>
<rect x="421" y="450.4" width="1" height="25.400000000000034" fill="#c8c8c8"/>
<rect x="422" y="450.4" width="1" height="25.400000000000034" fill="#787878"/>
<rect x="423" y="450.4" width="1" height="25.400000000000034" fill="#646464"/>
<rect x="424" y="450.4" width="1" height="25.400000000000034" fill="#e6e6e6"/>
<rect x="425" y="450.4" width="1" height="25.400000000000034" fill="#aaaaaa"/>
<rect x="426" y="450.4" width="1" height="25.400000000000034" fill="#969696"/>
<rect x="427" y="450.4" width="1" height="25.400000000000034" fill="#dcdcdc"/>
<rect x="428" y="450.4" width="1" height="25.400000000000034" fill="#787878"/>
<rect x="429" y="450.4" width="1" height="25.400000000000034" fill="#6e6e6e"/>
<rect x="430" y="450.4" width="1" height="25.400000000000034" fill="#464646"/>
<rect x="431" y="450.4" width="1" height="25.400000000000034" fill="#828282"/>
<rect x="432" y="450.4" width="1" height="25.400000000000034" fill="#969696"/>
<rect x="433" y="450.4" width="1" height="25.400000000000034" fill="#464646"/>
<rect x="434" y="450.4" width="1" height="25.400000000000034" fill="#aaaaaa"/>
<rect x="435" y="450.4" width="1" height="25.400000000000034" fill="#f0f0f0"/>
<rect x="436" y="450.4" width="3" height="25.400000000000034" fill="#f5f5f5"/>
<rect x="439" y="450.4" width="1" height="25.400000000000034" fill="#828282"/>
<rect x="440" y="450.4" width="1" height="25.400000000000034" fill="#e6e6e6"/>
<rect x="444" y="450.4" width="1" height="25.400000000000034" fill="#bebebe"/>
<rect x="445" y="450.4" width="1" height="25.400000000000034" fill="#828282"/>
<rect x="446" y="450.4" width="1" height="25.400000000000034" fill="#c8c8c8"/>
<rect x="447" y="450.4" width="1" height="25.400000000000034" fill="#b4b4b4"/>
<rect x="448" y="450.4" width="1" height="25.400000000000034" fill="#a0a0a0"/>
<rect x="449" y="450.4" width="1" height="25.400000000000034" fill="#dcdcdc"/>
<rect x="450" y="450.4" width="1" height="25.400000000000034" fill="#aaaaaa"/>
<rect x="451" y="450.4" width="1" height="25.400000000000034" fill="#505050"/>
<rect x="452" y="450.4" width="1" height="25.400000000000034" fill="#5a5a5a"/>
<rect x="453" y="450.4" width="1" height="25.400000000000034" fill="#a0a0a0"/>
<rect x="454" y="450.4" width="1" height="25.400000000000034" fill="#dcdcdc"/>
<rect x="455" y="450.4" width="1" height="25.400000000000034" fill="#ebebeb"/>
<rect x="456" y="450.4" width="2" height="25.400000000000034" fill="#f5f5f5"/>
<rect x="458" y="450.4" width="1" height="25.400000000000034" fill="#b4b4b4"/>
<rect x="459" y="450.4" width="1" height="25.400000000000034" fill="#969696"/>
<rect x="460" y="450.4" width="1" height="25.400000000000034" fill="#dcdcdc"/>
<rect x="461" y="450.4" width="1" height="25.400000000000034" fill="#b4b4b4"/>
<rect x="462" y="450.4" width="1" height="25.400000000000034" fill="#8c8c8c"/>
<rect x="463" y="450.4" width="1" height="25.400000000000034" fill="#d2d2d2"/>
<rect x="464" y="450.4" width="1" height="25.400000000000034" fill="#c8c8c8"/>
<rect x="465" y="450.4" width="1" height="25.400000000000034" fill="#828282"/>
<rect x="466" y="450.4" width="1" height="25.400000000000034" fill="#b4b4b4"/>
<rect x="467" y="450.4" width="1" height="25.400000000000034" fill="#c8c8c8"/>
<rect x="468" y="450.4" width="1" height="25.400000000000034" fill="#787878"/>
<rect x="469" y="450.4" width="1" height="25.400000000000034" fill="#505050"/>
<rect x="470" y="450.4" width="1" height="25.400000000000034" fill="#646464"/>
<rect x="471" y="450.4" width="1" height="25.400000000000034" fill="#8c8c8c"/>
<rect x="472" y="450.4" width="1" height="25.400000000000034" fill="#464646"/>
<rect x="473" y="450.4" width="1" height="25.400000000000034" fill="#c8c8c8"/>
<rect x="474" y="450.4" width="1" height="25.400000000000034" fill="#3c3c3c"/>
<rect x="475" y="450.4" width="1" height="25.400000000000034" fill="#969696"/>
<rect x="476" y="450.4" width="1" height="25.400000000000034" fill="#f0f0f0"/>
<rect x="477" y="450.4" width="1" height="25.400000000000034" fill="#f5f5f5"/>
<rect x="478" y="450.4" width="2" height="25.400000000000034" fill="#a0a0a0"/>
<rect x="480" y="450.4" width="1" height="25.400000000000034" fill="#dcdcdc"/>
<rect x="481" y="450.4" width="1" height="25.400000000000034" fill="#969696"/>
<rect x="482" y="450.4" width="2" height="25.400000000000034" fill="#aaaaaa"/>
<rect x="484" y="450.4" width="1" height="25.400000000000034" fill="#a5a5a5"/>
<rect x="485" y="450.4" width="2" height="25.400000000000034" fill="#a0a0a0"/>
<rect x="487" y="450.4" width="1" height="25.400000000000034" fill="#5a5a5a"/>
<rect x="488" y="450.4" width="1" height="25.400000000000034" fill="#646464"/>
<rect x="489" y="450.4" width="1" height="25.400000000000034" fill="#464646"/>
<rect x="490" y="450.4" width="1" height="25.400000000000034" fill="#323232"/>
<rect x="491" y="450.4" width="1" height="25.400000000000034" fill="#1e1e1e"/>
<rect x="492" y="450.4" width="1" height="25.400000000000034" fill="#505050"/>
<rect x="493" y="450.4" width="1" height="25.400000000000034" fill="#aaaaaa"/>
<rect x="494" y="450.4" width="1" height="25.400000000000034" fill="#8c8c8c"/>
<rect x="495" y="450.4" width="1" height="25.400000000000034" fill="#505050"/>
<rect x="496" y="450.4" width="1" height="25.400000000000034" fill="#323232"/>
<rect x="334.5" y="475.8" width="162.10000000000002" height="6.399999999999977" fill="url(#gH)"/>
<polyline points="334.1,386.6 335.2,384.6 336.3,383 337.5,380.5 338.9,378.7 340.2,379.6 341.5,379.5 343,378.6 344.1,378.3 346.5,378.4 349.3,377.8 351.5,377.5 353.6,376.6 355,377.4 356.2,377.8 359.7,377.8 363,378.8 366.6,380.4 369.6,381.8 374,384.3 379.2,387.5 388,393.6 398.5,401 408,407.4 417.7,413.5 427,418.9 436.9,424.1 447,429.5 458,434.7 466.9,439.2 475.6,443.1 480.7,445.4 483.5,445.9 485.9,445.7 488.5,444 491.1,438.8 492.5,433.6 493.7,429.3 494.6,423.3 495.4,414.6 496,409.4 496.3,397.3 496.7,386" fill="none" stroke="#5cb946" stroke-width="1.35" stroke-linejoin="round"/>
<rect x="334" y="373.2" width="169.39999999999998" height="109.0" fill="none" stroke="#5a5a5a" stroke-width="1"/>
<line x1="330.7" y1="376.6" x2="334" y2="376.6" stroke="#333" stroke-width="1.0"/>
<text x="328.7" y="379.70000000000005" font-size="8.8" text-anchor="end" textLength="10.52" lengthAdjust="spacingAndGlyphs">0.1</text>
<line x1="330.7" y1="386.7" x2="334" y2="386.7" stroke="#333" stroke-width="1.0"/>
<text x="328.7" y="389.8" font-size="8.8" text-anchor="end" textLength="10.52" lengthAdjust="spacingAndGlyphs">0.0</text>
<line x1="330.7" y1="396.7" x2="334" y2="396.7" stroke="#333" stroke-width="1.0"/>
<text x="328.7" y="399.8" font-size="8.8" text-anchor="end" textLength="14.94" lengthAdjust="spacingAndGlyphs">&#8722;0.1</text>
<line x1="330.7" y1="406.8" x2="334" y2="406.8" stroke="#333" stroke-width="1.0"/>
<text x="328.7" y="409.90000000000003" font-size="8.8" text-anchor="end" textLength="14.94" lengthAdjust="spacingAndGlyphs">&#8722;0.2</text>
<line x1="330.7" y1="416.8" x2="334" y2="416.8" stroke="#333" stroke-width="1.0"/>
<text x="328.7" y="419.90000000000003" font-size="8.8" text-anchor="end" textLength="14.94" lengthAdjust="spacingAndGlyphs">&#8722;0.3</text>
<line x1="330.7" y1="426.9" x2="334" y2="426.9" stroke="#333" stroke-width="1.0"/>
<text x="328.7" y="430.0" font-size="8.8" text-anchor="end" textLength="14.94" lengthAdjust="spacingAndGlyphs">&#8722;0.4</text>
<line x1="330.7" y1="436.9" x2="334" y2="436.9" stroke="#333" stroke-width="1.0"/>
<text x="328.7" y="440.0" font-size="8.8" text-anchor="end" textLength="14.94" lengthAdjust="spacingAndGlyphs">&#8722;0.5</text>
<line x1="330.7" y1="447.0" x2="334" y2="447.0" stroke="#333" stroke-width="1.0"/>
<text x="328.7" y="450.1" font-size="8.8" text-anchor="end" textLength="14.94" lengthAdjust="spacingAndGlyphs">&#8722;0.6</text>
<text x="340.2" y="370.1" font-size="8.1" font-weight="bold" textLength="155.90000000000003" lengthAdjust="spacingAndGlyphs">Enrichment plot: HALLMARK_APOPTOSIS</text>
<text x="452.5" y="386.5" font-size="8.7" text-anchor="middle" textLength="44" lengthAdjust="spacingAndGlyphs">NES = &#8211;1.51</text>
<text x="453" y="396.2" font-size="8.7" text-anchor="middle" textLength="68.8" lengthAdjust="spacingAndGlyphs">FDR q value = 0.03</text>
<text x="335.6" y="490.8" font-size="8.6" textLength="19" lengthAdjust="spacingAndGlyphs">2-DG</text>
<text x="468.4" y="492" font-size="8.6" textLength="25.2" lengthAdjust="spacingAndGlyphs">Vehicle</text>
<text transform="translate(306.5,411.6) rotate(-90)" font-size="9.0" text-anchor="middle" textLength="73" lengthAdjust="spacingAndGlyphs">Enrichment score (ES)</text>
<text x="83.7" y="352.1" font-size="10.0" textLength="17.2" lengthAdjust="spacingAndGlyphs" font-style="italic">Calr</text>
<text x="100.6" y="348.8" font-size="7.2" textLength="20.6" lengthAdjust="spacingAndGlyphs" class="sp">&#916;52/+</text>
<text x="124.0" y="352.1" font-size="10.0" textLength="69.8" lengthAdjust="spacingAndGlyphs">2-DG vs. vehicle</text>
<text x="352.0" y="351.9" font-size="10.0" textLength="17.0" lengthAdjust="spacingAndGlyphs" font-style="italic">Calr</text>
<text x="369.6" y="349.3" font-size="7.2" textLength="12" lengthAdjust="spacingAndGlyphs" class="sp">+/+</text>
<text x="384.6" y="351.9" font-size="10.0" textLength="69.2" lengthAdjust="spacingAndGlyphs">2-DG vs. vehicle</text>
<text x="6.8" y="512.2" font-size="10.8" font-weight="bold" fill="#000">I</text>
<text x="83.3" y="533.5" font-size="10.0" textLength="59.6" lengthAdjust="spacingAndGlyphs">Platelet count</text>
<line x1="54.4" y1="542.3" x2="54.4" y2="614.1" stroke="#1a1a1a" stroke-width="1.25" stroke-linecap="round"/>
<line x1="51.4" y1="613.5" x2="171.20000000000002" y2="613.5" stroke="#1a1a1a" stroke-width="1.35" stroke-linecap="round"/>
<line x1="51.4" y1="546.1" x2="54.4" y2="546.1" stroke="#1a1a1a" stroke-width="1.0"/>
<text x="49.9" y="549.5" font-size="8.6" text-anchor="end" textLength="17.21" lengthAdjust="spacingAndGlyphs">3000</text>
<line x1="51.4" y1="568.6" x2="54.4" y2="568.6" stroke="#1a1a1a" stroke-width="1.0"/>
<text x="49.9" y="572.0" font-size="8.6" text-anchor="end" textLength="17.21" lengthAdjust="spacingAndGlyphs">2000</text>
<line x1="51.4" y1="591.0" x2="54.4" y2="591.0" stroke="#1a1a1a" stroke-width="1.0"/>
<text x="49.9" y="594.4" font-size="8.6" text-anchor="end" textLength="17.21" lengthAdjust="spacingAndGlyphs">1000</text>
<line x1="51.4" y1="613.5" x2="54.4" y2="613.5" stroke="#1a1a1a" stroke-width="1.0"/>
<text x="49.9" y="616.9" font-size="8.6" text-anchor="end" textLength="4.3" lengthAdjust="spacingAndGlyphs">0</text>
<rect x="62.9" y="585.2" width="18.000000000000007" height="28.299999999999955" fill="#c5112f"/>
<line x1="71.9" y1="585.2" x2="71.9" y2="584.3" stroke="#1a1a1a" stroke-width="1.1"/>
<line x1="67.5" y1="584.3" x2="76.30000000000001" y2="584.3" stroke="#1a1a1a" stroke-width="1.1"/>
<rect x="90.3" y="603" width="18.299999999999997" height="10.5" fill="#e2899a"/>
<line x1="99.45" y1="603" x2="99.45" y2="602" stroke="#1a1a1a" stroke-width="1.1"/>
<line x1="95.05" y1="602" x2="103.85000000000001" y2="602" stroke="#1a1a1a" stroke-width="1.1"/>
<rect x="117.5" y="562.7" width="18.099999999999994" height="50.799999999999955" fill="#0f4d81"/>
<line x1="126.55" y1="562.7" x2="126.55" y2="557.6" stroke="#1a1a1a" stroke-width="1.1"/>
<line x1="122.14999999999999" y1="557.6" x2="130.95" y2="557.6" stroke="#1a1a1a" stroke-width="1.1"/>
<rect x="144.7" y="586.2" width="17.700000000000017" height="27.299999999999955" fill="#88a8c6"/>
<line x1="153.55" y1="586.2" x2="153.55" y2="578.5" stroke="#1a1a1a" stroke-width="1.1"/>
<line x1="149.15" y1="578.5" x2="157.95000000000002" y2="578.5" stroke="#1a1a1a" stroke-width="1.1"/>
<line x1="71.4" y1="546.7" x2="99.1" y2="546.7" stroke="#1a1a1a" stroke-width="1.05"/>
<line x1="71.4" y1="544.7" x2="71.4" y2="548.7" stroke="#1a1a1a" stroke-width="1.0"/>
<line x1="99.1" y1="544.7" x2="99.1" y2="548.7" stroke="#1a1a1a" stroke-width="1.0"/>
<text x="85.25" y="547.1" font-size="8" text-anchor="middle">*</text>
<line x1="126.4" y1="546.7" x2="153.6" y2="546.7" stroke="#1a1a1a" stroke-width="1.05"/>
<line x1="126.4" y1="544.7" x2="126.4" y2="548.7" stroke="#1a1a1a" stroke-width="1.0"/>
<line x1="153.6" y1="544.7" x2="153.6" y2="548.7" stroke="#1a1a1a" stroke-width="1.0"/>
<text x="140.0" y="547.1" font-size="8" text-anchor="middle">*</text>
<text transform="translate(25.9,577.1) rotate(-90)" font-size="9.0" text-anchor="middle" textLength="62" lengthAdjust="spacingAndGlyphs">PLT [*10<tspan dy="-3.2" font-size="6.6">3</tspan><tspan dy="3.2"> cells/&#181;L]</tspan></text>
<rect x="176.7" y="535.7" width="5.2" height="5.2" fill="#c5112f"/>
<text x="184.9" y="541.2" font-size="8.4" textLength="17.6" lengthAdjust="spacingAndGlyphs" font-style="italic">Jak2</text>
<text x="202.4" y="538.1" font-size="5.2" textLength="7.2" lengthAdjust="spacingAndGlyphs" class="sp">+/+</text>
<text x="211.0" y="541.2" font-size="8.4" textLength="23.0" lengthAdjust="spacingAndGlyphs">vehicle</text>
<rect x="176.7" y="546.9" width="5.2" height="5.2" fill="#e2899a"/>
<text x="184.9" y="552.4" font-size="8.4" textLength="17.6" lengthAdjust="spacingAndGlyphs" font-style="italic">Jak2</text>
<text x="202.4" y="549.3" font-size="5.2" textLength="7.2" lengthAdjust="spacingAndGlyphs" class="sp">+/+</text>
<text x="211.0" y="552.4" font-size="8.4" textLength="18.2" lengthAdjust="spacingAndGlyphs">2-DG</text>
<rect x="176.7" y="558.1" width="5.2" height="5.2" fill="#0f4d81"/>
<text x="184.9" y="563.6" font-size="8.4" textLength="16.4" lengthAdjust="spacingAndGlyphs" font-style="italic">Jak2</text>
<text x="201.2" y="560.5" font-size="5.2" textLength="19.4" lengthAdjust="spacingAndGlyphs" class="sp"><tspan font-style="italic">V617F</tspan>/+</text>
<text x="222.8" y="563.6" font-size="8.4" textLength="22.6" lengthAdjust="spacingAndGlyphs">vehicle</text>
<rect x="176.7" y="569.3" width="5.2" height="5.2" fill="#88a8c6"/>
<text x="184.9" y="574.8" font-size="8.4" textLength="16.4" lengthAdjust="spacingAndGlyphs" font-style="italic">Jak2</text>
<text x="201.2" y="571.7" font-size="5.2" textLength="19.4" lengthAdjust="spacingAndGlyphs" class="sp"><tspan font-style="italic">V617F</tspan>/+</text>
<text x="222.8" y="574.8" font-size="8.4" textLength="17.8" lengthAdjust="spacingAndGlyphs">2-DG</text>
<text x="279.0" y="512.2" font-size="10.8" font-weight="bold" fill="#000">J</text>
<text x="316.6" y="519.1" font-size="10.0" textLength="152.4" lengthAdjust="spacingAndGlyphs">MPL on megakaryocyte progenitors</text>
<line x1="327.2" y1="525.6" x2="327.2" y2="614.1" stroke="#1a1a1a" stroke-width="1.25" stroke-linecap="round"/>
<line x1="324.2" y1="613.5" x2="409.4" y2="613.5" stroke="#1a1a1a" stroke-width="1.35" stroke-linecap="round"/>
<line x1="324.2" y1="529.5" x2="327.2" y2="529.5" stroke="#1a1a1a" stroke-width="1.0"/>
<text x="322.7" y="532.9" font-size="8.6" text-anchor="end" textLength="10.76" lengthAdjust="spacingAndGlyphs">1.2</text>
<line x1="324.2" y1="543.5" x2="327.2" y2="543.5" stroke="#1a1a1a" stroke-width="1.0"/>
<text x="322.7" y="546.9" font-size="8.6" text-anchor="end" textLength="10.76" lengthAdjust="spacingAndGlyphs">1.0</text>
<line x1="324.2" y1="557.5" x2="327.2" y2="557.5" stroke="#1a1a1a" stroke-width="1.0"/>
<text x="322.7" y="560.9" font-size="8.6" text-anchor="end" textLength="10.76" lengthAdjust="spacingAndGlyphs">0.8</text>
<line x1="324.2" y1="571.5" x2="327.2" y2="571.5" stroke="#1a1a1a" stroke-width="1.0"/>
<text x="322.7" y="574.9" font-size="8.6" text-anchor="end" textLength="10.76" lengthAdjust="spacingAndGlyphs">0.6</text>
<line x1="324.2" y1="585.5" x2="327.2" y2="585.5" stroke="#1a1a1a" stroke-width="1.0"/>
<text x="322.7" y="588.9" font-size="8.6" text-anchor="end" textLength="10.76" lengthAdjust="spacingAndGlyphs">0.4</text>
<line x1="324.2" y1="599.5" x2="327.2" y2="599.5" stroke="#1a1a1a" stroke-width="1.0"/>
<text x="322.7" y="602.9" font-size="8.6" text-anchor="end" textLength="10.76" lengthAdjust="spacingAndGlyphs">0.2</text>
<line x1="324.2" y1="613.5" x2="327.2" y2="613.5" stroke="#1a1a1a" stroke-width="1.0"/>
<text x="322.7" y="616.9" font-size="8.6" text-anchor="end" textLength="10.76" lengthAdjust="spacingAndGlyphs">0.0</text>
<rect x="341.6" y="543.4" width="18.399999999999977" height="70.10000000000002" fill="#0f4d81"/>
<line x1="350.8" y1="543.4" x2="350.8" y2="540.8" stroke="#1a1a1a" stroke-width="1.1"/>
<line x1="346.40000000000003" y1="540.8" x2="355.2" y2="540.8" stroke="#1a1a1a" stroke-width="1.1"/>
<rect x="382.9" y="563.1" width="18.100000000000023" height="50.39999999999998" fill="#88a8c6"/>
<line x1="391.95" y1="563.1" x2="391.95" y2="557.6" stroke="#1a1a1a" stroke-width="1.1"/>
<line x1="387.55" y1="557.6" x2="396.34999999999997" y2="557.6" stroke="#1a1a1a" stroke-width="1.1"/>
<line x1="350.3" y1="532" x2="392.1" y2="532" stroke="#1a1a1a" stroke-width="1.05"/>
<line x1="350.3" y1="530.0" x2="350.3" y2="534.0" stroke="#1a1a1a" stroke-width="1.0"/>
<line x1="392.1" y1="530.0" x2="392.1" y2="534.0" stroke="#1a1a1a" stroke-width="1.0"/>
<text x="371.20000000000005" y="532.4" font-size="8" text-anchor="middle">*</text>
<text transform="translate(305.9,569.2) rotate(-90)" font-size="9.2" text-anchor="middle" textLength="71.3" lengthAdjust="spacingAndGlyphs">Geometric mean MPL</text>
<rect x="415.1" y="541.2" width="5.2" height="5.2" fill="#0f4d81"/>
<text x="423.3" y="546.7" font-size="8.4" textLength="16.4" lengthAdjust="spacingAndGlyphs" font-style="italic">Jak2</text>
<text x="439.6" y="543.6" font-size="5.2" textLength="19.4" lengthAdjust="spacingAndGlyphs" class="sp"><tspan font-style="italic">V617F</tspan>/+</text>
<text x="461.2" y="546.7" font-size="8.4" textLength="22.6" lengthAdjust="spacingAndGlyphs">vehicle</text>
<rect x="415.1" y="552.1" width="5.2" height="5.2" fill="#88a8c6"/>
<text x="423.3" y="557.6" font-size="8.4" textLength="16.4" lengthAdjust="spacingAndGlyphs" font-style="italic">Jak2</text>
<text x="439.6" y="554.5" font-size="5.2" textLength="19.4" lengthAdjust="spacingAndGlyphs" class="sp"><tspan font-style="italic">V617F</tspan>/+</text>
<text x="461.2" y="557.6" font-size="8.4" textLength="17.8" lengthAdjust="spacingAndGlyphs">2-DG</text>
</svg></div></body></html>
